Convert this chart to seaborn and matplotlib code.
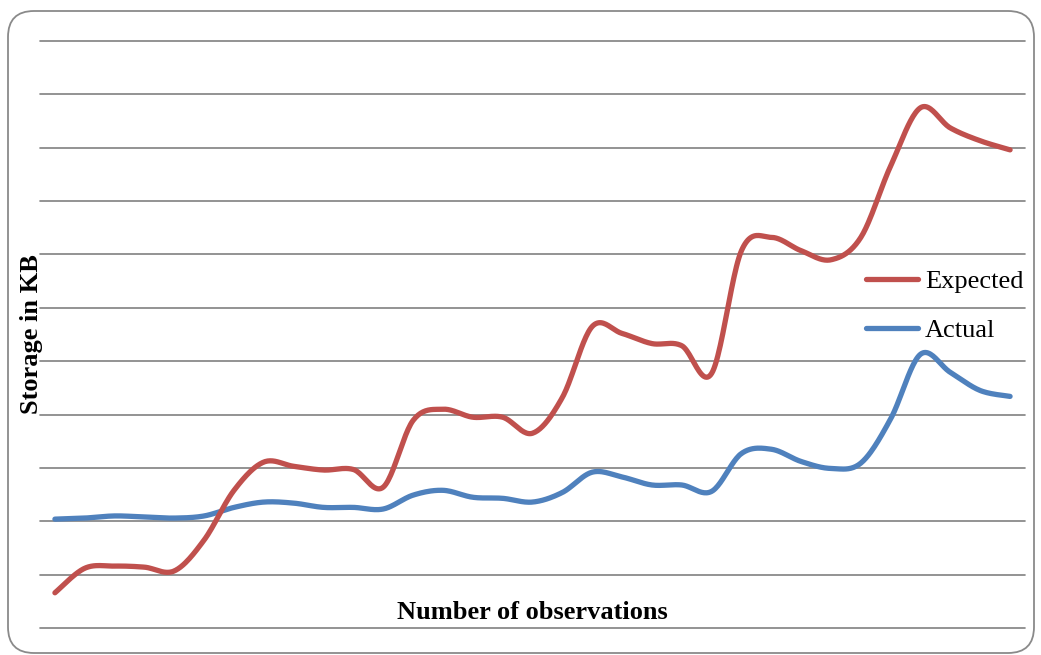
import numpy as np
import pandas as pd
import matplotlib
matplotlib.use("Agg")
import matplotlib.pyplot as plt
from matplotlib.patches import FancyBboxPatch
from matplotlib.transforms import IdentityTransform
import seaborn as sns

# Storage per observation (KB)
observations = list(range(1, 34))
expected = [66, 112, 116, 114, 107, 165, 258, 311, 303, 296, 297, 264, 389, 410, 395,
            395, 365, 432, 565, 552, 533, 529, 477, 707, 732, 707, 690, 732, 866, 975,
            937, 913, 896]
actual = [204, 206, 210, 208, 206, 210, 226, 236, 234, 226, 226, 223, 249, 258, 245,
          243, 236, 254, 292, 283, 268, 268, 256, 327, 335, 312, 299, 309, 392, 513,
          479, 445, 434]
series_names = ["Expected", "Actual"]
series_colors = {"Expected": "#C0504D", "Actual": "#4F81BD"}
x_label = "Number of observations"
y_label = "Storage in KB"
y_max = 1100
y_step = 100


def smooth_curve(x, y, steps=24):
    """Cubic Bezier smoothing through every point (spreadsheet-style smoothed line)."""
    p = np.column_stack([x, y]).astype(float)
    ext = np.vstack([p[0], p, p[-1]])
    t = np.linspace(0, 1, steps, endpoint=False)[:, None]
    parts = []
    for i in range(len(p) - 1):
        p0, p1, p2, p3 = ext[i], ext[i + 1], ext[i + 2], ext[i + 3]
        c1 = p1 + (p2 - p0) / 6.0
        c2 = p2 - (p3 - p1) / 6.0
        seg = ((1 - t) ** 3) * p1 + 3 * ((1 - t) ** 2) * t * c1 \
            + 3 * (1 - t) * t ** 2 * c2 + t ** 3 * p2
        parts.append(seg)
    parts.append(p[-1:])
    out = np.vstack(parts)
    return out[:, 0], out[:, 1]


frames = []
for name, values in [("Actual", actual), ("Expected", expected)]:
    sx, sy = smooth_curve(observations, values)
    frames.append(pd.DataFrame({"obs": sx, "storage": sy, "series": name}))
df = pd.concat(frames, ignore_index=True)

sns.set_theme(style="white")
plt.rcParams["font.family"] = ["Liberation Serif", "DejaVu Serif"]

W, H, DPI = 1041, 655, 100
fig = plt.figure(figsize=(W / DPI, H / DPI), dpi=DPI)
ax = fig.add_axes([40 / W, 1 - 628 / H, 985 / W, 587 / H])

sns.lineplot(data=df, x="obs", y="storage", hue="series",
             hue_order=["Actual", "Expected"], palette=series_colors,
             estimator=None, sort=False, linewidth=3.8,
             solid_capstyle="round", ax=ax)

ax.set_xlim(0.5, len(observations) + 0.5)
ax.set_ylim(0, y_max)
ax.set_yticks(np.arange(0, y_max + 1, y_step))
ax.set_xticks([])
ax.tick_params(length=0, labelleft=False, labelbottom=False)
ax.set_axisbelow(True)
ax.yaxis.grid(True, color="#808080", linewidth=1.2)
ax.xaxis.grid(False)
for gl in ax.get_ygridlines():
    gl.set_clip_on(False)
for s in ax.spines.values():
    s.set_visible(False)

ax.set_xlabel(x_label, fontsize=19, fontweight="bold", color="black")
ax.xaxis.set_label_coords(0.5, 0.026)
ax.xaxis.label.set_va("center")
ax.set_ylabel(y_label, fontsize=19, fontweight="bold", color="black")
ax.yaxis.set_label_coords(-0.009, 0.5)
ax.yaxis.label.set_va("center")

handles, labels = ax.get_legend_handles_labels()
lookup = dict(zip(labels, handles))
ax.get_legend().remove()
fig.legend([lookup[n] for n in series_names], series_names,
           loc="upper left", bbox_to_anchor=(866 / W, 1 - 269.5 / H),
           frameon=False, fontsize=19, labelcolor="black",
           handlelength=1.97, handletextpad=0.27,
           labelspacing=0.97, borderpad=0, borderaxespad=0)

# rounded outer frame
frame = FancyBboxPatch((8, 2), 1026, 642,
                       boxstyle="round,pad=0,rounding_size=26",
                       transform=IdentityTransform(), fill=False,
                       edgecolor="#8a8a8a", linewidth=1.3)
fig.add_artist(frame)

fig.savefig("out.png", dpi=DPI)
